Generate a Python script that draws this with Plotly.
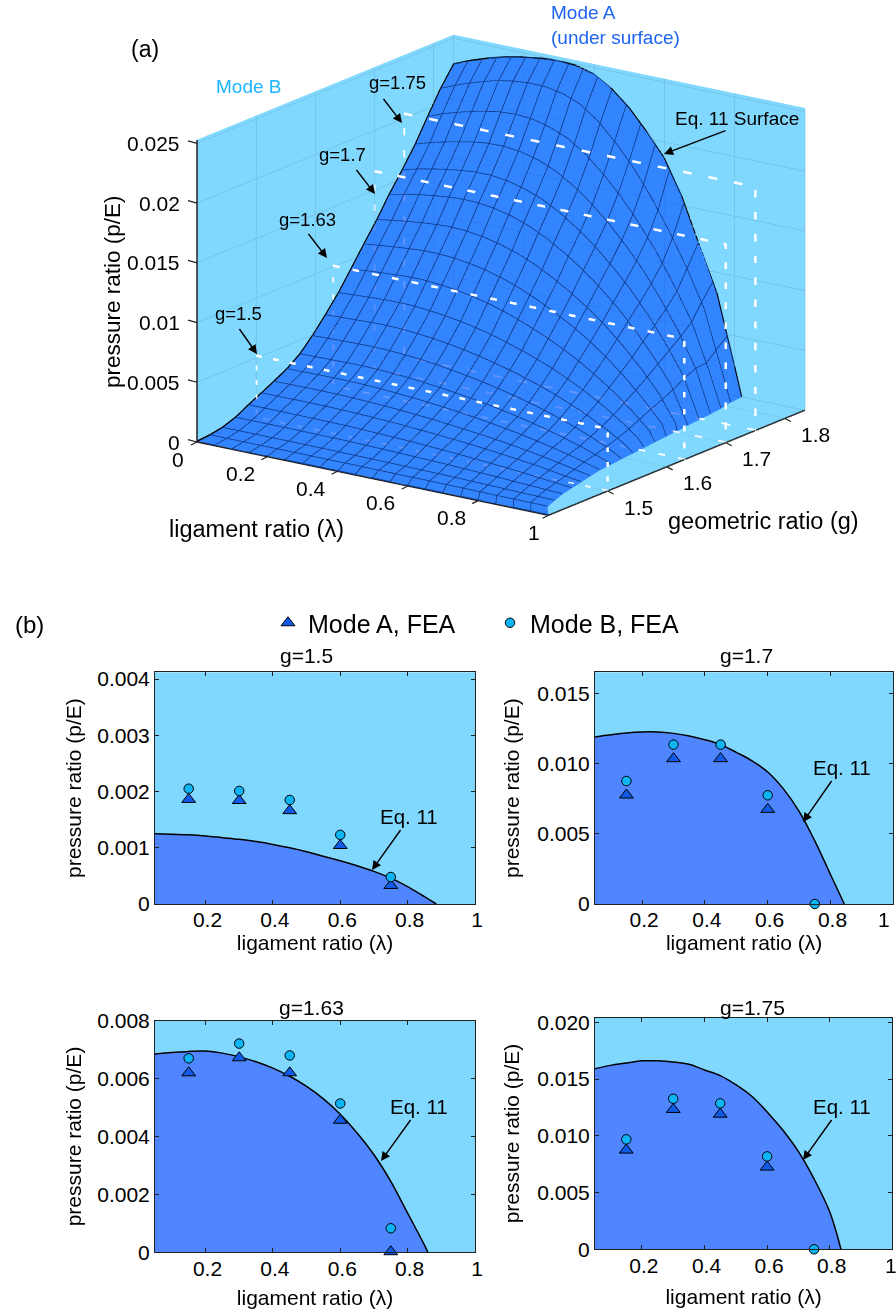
import numpy as np
import plotly.graph_objects as go

W, H = 896, 1312
FONT = "Liberation Sans"

# ---------- panel (a) data ----------
lam_grid = [0, .05, .1, .15, .2, .25, .3, .35, .4, .45, .5, .55, .6, .65, .7, .75, .8, .85, .9, .95, 1]
g_grid = [1.400, 1.422, 1.443, 1.465, 1.487, 1.509, 1.530, 1.552, 1.574, 1.595, 1.617,
          1.639, 1.660, 1.682, 1.704, 1.725, 1.747, 1.769, 1.790, 1.812, 1.834]
lam_edge = [1.0, .96, .945, .93, .92, .91, .90, .89, .885, .88, .875,
            .87, .865, .86, .855, .85, .845, .84, .835, .825, .82]
# surface values, units of 1e-5 (rows g, columns lambda)
surface_1e5 = [
 [0]*21,
 [10,10,10,10,10,10,9,9,9,8,8,7,7,6,5,4,3,2,2,1,0],
 [30,30,30,30,30,29,29,27,26,25,23,21,19,17,14,11,8,5,2,0,0],
 [70,70,70,70,69,68,67,64,61,57,53,49,44,38,32,26,18,11,3,0,0],
 [130,130,130,129,128,126,124,118,113,107,99,91,82,72,60,48,34,19,5,0,0],
 [185,185,186,186,184,181,176,169,162,152,141,130,117,102,86,68,49,25,3,0,0],
 [240,241,242,242,240,235,229,220,209,197,183,167,151,132,110,86,59,29,0,0,0],
 [300,302,304,305,303,298,289,278,266,250,233,213,191,167,138,107,73,33,0,0,0],
 [380,383,386,388,387,381,371,358,341,322,300,275,246,214,178,138,93,41,0,0,0],
 [490,495,499,502,501,493,481,465,443,418,390,357,320,279,232,179,120,51,0,0,0],
 [620,627,632,637,636,626,612,591,566,534,498,456,410,357,296,228,151,62,0,0,0],
 [760,770,777,783,783,772,755,731,701,664,618,567,510,443,367,282,184,73,0,0,0],
 [915,930,940,950,952,942,924,897,860,814,757,695,623,541,446,341,220,82,0,0,0],
 [1080,1098,1113,1125,1130,1122,1103,1073,1030,975,908,830,745,645,530,402,255,90,0,0,0],
 [1240,1264,1283,1298,1308,1303,1283,1249,1202,1140,1061,971,869,751,615,461,288,58,0,0,0],
 [1410,1440,1465,1484,1497,1494,1475,1439,1385,1312,1222,1118,996,860,700,520,316,0,0,0,0],
 [1570,1608,1637,1661,1678,1680,1661,1623,1565,1483,1380,1262,1122,966,782,575,337,0,0,0,0],
 [1740,1786,1821,1852,1873,1878,1861,1823,1760,1668,1552,1417,1257,1078,865,629,340,0,0,0,0],
 [1930,1985,2028,2065,2092,2102,2089,2051,1989,1887,1754,1597,1411,1200,955,681,300,0,0,0,0],
 [2120,2180,2232,2275,2305,2320,2316,2287,2227,2114,1965,1787,1574,1327,1049,737,250,0,0,0,0],
 [2280,2340,2390,2430,2460,2480,2490,2480,2440,2350,2220,2050,1860,1570,1190,820,240,0,0,0,0],
]
mesh_frac = [.05, .1, .15, .2, .25, .3, .35, .4, .45, .5, .55, .6, .65, .7, .75, .8, .85, .9, .95]
frame_g = [1.5, 1.63, 1.7, 1.75]
frame_top = [.0052, .0101, .0166, .0204]
frame_lam = [0, 1, 1, 0, 0]
z_ticks = [0, .005, .01, .015, .02, .025]
z_ticktext = ["0", "0.005", "0.01", "0.015", "0.02", "0.025"]
lam_ticks = [0, .2, .4, .6, .8, 1]
lam_ticktext = ["0", "0.2", "0.4", "0.6", "0.8", "1"]
lam_label_dx = [-19, -27, -27, -27, -27, -14]
g_ticks = [1.5, 1.6, 1.7, 1.8]
g_ticktext = ["1.5", "1.6", "1.7", "1.8"]
G_MIN, G_MAX, Z_TOP = 1.4, 1.834, .0253

# ---------- panel (b) data ----------
fea_lam = [.15, .3, .45, .6, .75]
panels = [
 dict(name="g=1.5", ymax=.00412, yticks=[0, .001, .002, .003, .004], ytext=["0", "0.001", "0.002", "0.003", "0.004"],
      xtext=["0.2", "0.4", "0.6", "0.8", "1"], title_standoff=3,
      cx=[.05,.1,.15,.2,.25,.3,.35,.4,.45,.5,.55,.6,.65,.7,.75,.8,.85,.885],
      cy=[.00125,.00124,.00123,.00121,.00118,.00115,.00111,.00106,.00100,.00093,.00085,.00077,.00068,.00058,.00046,.00031,.00013,0],
      a=[.00186,.00184,.00166,.00104,.00033], b=[.00205,.00201,.00185,.00123,.00048]),
 dict(name="g=1.7", ymax=.0165, yticks=[0, .005, .01, .015], ytext=["0", "0.005", "0.010", "0.015"],
      xtext=["0.2", "0.4", "0.6", "0.8", ""], title_standoff=3,
      cx=[.05,.1,.15,.2,.25,.3,.35,.4,.45,.5,.55,.6,.65,.7,.75,.8,.844],
      cy=[.0119,.01205,.01218,.01225,.01225,.01215,.01197,.0117,.01135,.0108,.0102,.0094,.0082,.0066,.0045,.0021,0],
      a=[.00776,.01035,.01035,.00674,None], b=[.00876,.01135,.01135,.00774,0]),
 dict(name="g=1.63", ymax=.008, yticks=[0, .002, .004, .006, .008], ytext=["0", "0.002", "0.004", "0.006", "0.008"],
      xtext=["0.2", "0.4", "0.6", "0.8", "1"], title_standoff=11,
      cx=[.05,.1,.15,.2,.25,.3,.35,.4,.45,.5,.55,.6,.65,.7,.75,.8,.85,.86],
      cy=[.00685,.0069,.00694,.00695,.00688,.00675,.00658,.00636,.00608,.00573,.0053,.00477,.00412,.00337,.00245,.00135,.00025,0],
      a=[.0062,.00672,.0062,.00456,.00002], b=[.0067,.00721,.0068,.00514,.00083]),
 dict(name="g=1.75", ymax=.0204, yticks=[0, .005, .01, .015, .02], ytext=["0", "0.005", "0.010", "0.015", "0.020"],
      xtext=["0.2", "0.4", "0.6", "0.8", ""], title_standoff=13,
      cx=[.05,.1,.15,.2,.25,.3,.35,.4,.45,.5,.55,.6,.65,.7,.75,.8,.836],
      cy=[.0159,.0162,.0164,.0166,.0166,.0165,.0163,.0158,.0153,.0145,.0135,.0121,.0105,.0086,.0062,.0033,0],
      a=[.00874,.01232,.0119,.00724,None], b=[.00968,.01326,.01285,.00818,0]),
]
x_ticks = [.2, .4, .6, .8, 1]

WALL = "#80D8FF"
FILL = "#4F86FF"
TRI = "#0F5BE8"
CIRC = "#0AB4F5"
SURF = "#004EFF"
MESH = "#0E3C94"

def px(x): return x / W
def py(y): return 1 - y / H

fig = go.Figure()

# ---------- 3D surface ----------
lam_arr = np.array(lam_grid)
edge_arr = np.array(lam_edge)
g_arr = np.array(g_grid)
X = np.minimum(lam_arr[None, :], edge_arr[:, None])
Y = np.repeat(g_arr[:, None], len(lam_grid), axis=1)
Z = np.array(surface_1e5) * 1e-5
LIFT = 6e-5

for fg, ft in zip(frame_g, frame_top):
    fig.add_trace(go.Scatter3d(x=frame_lam, y=[fg]*5, z=[ft, ft, 0, 0, ft], mode="lines",
                               line=dict(color="white", width=5, dash="dash"),
                               showlegend=False, hoverinfo="skip"))

fig.add_trace(go.Surface(x=X, y=Y, z=Z, colorscale=[[0, SURF], [1, SURF]], showscale=False, opacity=.6,
                         lighting=dict(ambient=1, diffuse=0, specular=0, roughness=1, fresnel=0),
                         hoverinfo="skip"))

# mesh lines read off the same surface table: rows of constant g, and columns
# running at a fixed fraction of the way out to the zero boundary of each row
mx, my, mz = [], [], []
n_g, n_l = X.shape
for i in range(n_g):
    zero = np.where(Z[i, 1:] == 0)[0]
    last = zero[0] + 1 if i > 0 and len(zero) else n_l - 1
    mx += list(X[i, :last + 1]) + [None]
    my += list(Y[i, :last + 1]) + [None]
    mz += list(Z[i, :last + 1] + LIFT) + [None]
for s in mesh_frac:
    cx_line = s * edge_arr
    cz_line = [np.interp(cx_line[i], X[i], Z[i]) for i in range(n_g)]
    mx += list(cx_line) + [None]
    my += list(g_arr) + [None]
    mz += [v + LIFT for v in cz_line] + [None]
fig.add_trace(go.Scatter3d(x=mx, y=my, z=mz, mode="lines", connectgaps=False,
                           line=dict(color=MESH, width=2), showlegend=False, hoverinfo="skip"))

# surface outline
fig.add_trace(go.Scatter3d(x=np.r_[X[:, 0], X[-1, :]], y=np.r_[Y[:, 0], Y[-1, :]], z=np.r_[Z[:, 0], Z[-1, :]] + LIFT,
                           mode="lines", line=dict(color="black", width=3), showlegend=False, hoverinfo="skip"))

# axis lines
fig.add_trace(go.Scatter3d(x=[0, 0, 1, 1], y=[G_MIN, G_MIN, G_MIN, G_MAX], z=[Z_TOP, 0, 0, 0], mode="lines",
                           line=dict(color="#222222", width=3), showlegend=False, hoverinfo="skip"))

scene_ann = []
def tick3(x, y, z, ax, ay):
    return dict(x=x, y=y, z=z, text="·", showarrow=True, arrowhead=0, arrowwidth=1.2, standoff=0,
                arrowcolor="#222222", ax=ax, ay=ay, font=dict(size=1, color="rgba(0,0,0,0)"), opacity=1)
tf = dict(family=FONT, size=21, color="black")
for v, t in zip(z_ticks, z_ticktext):
    scene_ann.append(tick3(0, G_MIN, v, -11, -3))
    scene_ann.append(dict(x=0, y=G_MIN, z=v, text=t, showarrow=False, xanchor="right", xshift=-15, font=tf))
for v, t, dx in zip(lam_ticks, lam_ticktext, lam_label_dx):
    scene_ann.append(tick3(v, G_MIN, 0, -8, 4))
    scene_ann.append(dict(x=v, y=G_MIN, z=0, text=t, showarrow=False, xshift=dx, yshift=-17, font=tf))
for v, t in zip(g_ticks, g_ticktext):
    scene_ann.append(tick3(1, v, 0, 8, 4))
    scene_ann.append(dict(x=1, y=v, z=0, text=t, showarrow=False, xshift=31, yshift=-16, font=tf))

def ax3(rng, ticks):
    return dict(range=rng, tickvals=ticks, ticktext=[""]*len(ticks), showticklabels=False, title=dict(text=""),
                showbackground=True, backgroundcolor=WALL, gridcolor="#69B4D4", gridwidth=1,
                showline=False, ticks="", zeroline=False, showspikes=False)

EYE = 3.0
SCALE = 1.57
e = np.array([.555, -.778, .292]) * EYE
fig.update_layout(scene=dict(
    domain=dict(x=[106/W, 1], y=[py(550), 1]),
    aspectmode="manual", aspectratio=dict(x=SCALE, y=1.023*SCALE, z=.732*SCALE),
    camera=dict(eye=dict(x=e[0], y=e[1], z=e[2]), up=dict(x=0, y=0, z=1), center=dict(x=0, y=0, z=0),
                projection=dict(type="orthographic")),
    xaxis=ax3([0, 1], lam_ticks), yaxis=ax3([G_MIN, G_MAX], g_ticks), zaxis=ax3([0, Z_TOP], z_ticks),
    annotations=scene_ann, bgcolor="rgba(0,0,0,0)"))

# ---------- 2D panels ----------
doms = [([155, 475], [672.3, 904]), ([595, 893.3], [672.3, 904]),
        ([155, 475], [1020.7, 1252.3]), ([595, 892.3], [1017.7, 1249.3])]
for i, (p, (dx, dy)) in enumerate(zip(panels, doms)):
    n = "" if i == 0 else str(i + 1)
    xa, ya = "x" + n, "y" + n
    fig.add_trace(go.Scatter(x=p["cx"], y=p["cy"], xaxis=xa, yaxis=ya, mode="lines",
                             line=dict(color="black", width=1.5, shape="spline"), fill="tozeroy", fillcolor=FILL,
                             showlegend=False, hoverinfo="skip"))
    fig.add_trace(go.Scatter(x=fea_lam, y=p["a"], xaxis=xa, yaxis=ya, mode="markers", name="Mode A, FEA",
                             marker=dict(symbol="triangle-up", size=12, color=TRI, line=dict(color="black", width=1)),
                             showlegend=i == 0, cliponaxis=False))
    fig.add_trace(go.Scatter(x=fea_lam, y=p["b"], xaxis=xa, yaxis=ya, mode="markers", name="Mode B, FEA",
                             marker=dict(symbol="circle", size=9.5, color=CIRC, line=dict(color="black", width=1)),
                             showlegend=i == 0, cliponaxis=False))
    axis_common = dict(showline=True, linecolor="#222222", linewidth=1, mirror="ticks", ticks="inside", ticklen=4,
                       tickcolor="#222222", showgrid=False, zeroline=False,
                       tickfont=dict(family=FONT, size=21, color="black"))
    fig.update_layout(**{
        ("xaxis" + n): dict(domain=[px(dx[0]), px(dx[1])], range=[.05, 1], tickvals=x_ticks, ticktext=p["xtext"],
                            anchor=ya, ticklabelshift=2, ticklabelstandoff=-3,
                            title=dict(text="ligament ratio (λ)", standoff=p["title_standoff"],
                                       font=dict(family=FONT, size=21, color="black")), **axis_common),
        ("yaxis" + n): dict(domain=[py(dy[1]), py(dy[0])], range=[0, p["ymax"]], tickvals=p["yticks"], ticktext=p["ytext"],
                            anchor=xa, title=dict(text="pressure ratio (p/E)", standoff=9 if i % 2 == 0 else 11,
                                                  font=dict(family=FONT, size=21, color="black")), **axis_common),
    })

# ---------- text ----------
def label(x, y, text, size, color="black", xanchor="center", angle=0, align="center"):
    return dict(x=px(x), y=py(y), xref="paper", yref="paper", text=text, showarrow=False, xanchor=xanchor,
                yanchor="middle", textangle=angle, align=align, font=dict(family=FONT, size=size, color=color))

def arrow(x0, y0, x1, y1):
    return dict(x=px(x1), y=py(y1), xref="paper", yref="paper", ax=x0 - x1, ay=y0 - y1, axref="pixel", ayref="pixel",
                text=" ", showarrow=True, arrowhead=2, arrowsize=1.3, arrowwidth=1.4, arrowcolor="black",
                font=dict(size=1))

anns = [
    label(145, 49, "(a)", 23), label(29, 624, "(b)", 24),
    label(248, 86, "Mode B", 19, "#1EB4FF"),
    label(549, 13, "Mode A", 19, "#1E64F0", xanchor="left"),
    label(549, 37, "(under surface)", 19, "#1E64F0", xanchor="left"),
    label(397, 83, "g=1.75", 18.5), arrow(382, 97, 402, 123),
    label(342, 154, "g=1.7", 18.5), arrow(355, 168, 375, 194),
    label(307, 219, "g=1.63", 18.5), arrow(307, 232, 327, 258),
    label(238, 314, "g=1.5", 18.5), arrow(238, 327, 257, 354),
    label(737, 118, "Eq. 11 Surface", 19), arrow(727, 130, 664, 154),
    label(256, 529, "ligament ratio (λ)", 23.5),
    label(763, 521, "geometric ratio (g)", 23.5),
    label(113, 292, "pressure ratio (p/E)", 22.5, angle=-90),
    label(306, 655, "g=1.5", 21), label(746, 655, "g=1.7", 21),
    label(311, 1007, "g=1.63", 21), label(752, 1007, "g=1.75", 21),
    label(884, 919, "1", 21), label(891, 1265, "1", 21),
    label(409, 816, "Eq. 11", 20.5), arrow(402, 828, 372, 870),
    label(842, 767, "Eq. 11", 20.5), arrow(833, 779, 803, 822),
    label(419, 1106, "Eq. 11", 20.5), arrow(412, 1118, 381, 1161),
    label(842, 1106, "Eq. 11", 20.5), arrow(833, 1118, 803, 1160),
]

fig.update_layout(
    width=W, height=H, margin=dict(l=0, r=0, t=0, b=0, autoexpand=False), autosize=False,
    paper_bgcolor="white", plot_bgcolor=WALL, annotations=anns,
    font=dict(family=FONT, color="black"),
    legend=dict(orientation="h", x=px(268), y=py(623), xanchor="left", yanchor="middle",
                bgcolor="rgba(0,0,0,0)", font=dict(family=FONT, size=25, color="black"),
                entrywidth=177, entrywidthmode="pixels", itemclick=False, itemdoubleclick=False),
)

fig.write_html("out.html", post_script="document.body.style.margin='0';document.body.style.overflow='hidden';",
               config=dict(displayModeBar=False))
